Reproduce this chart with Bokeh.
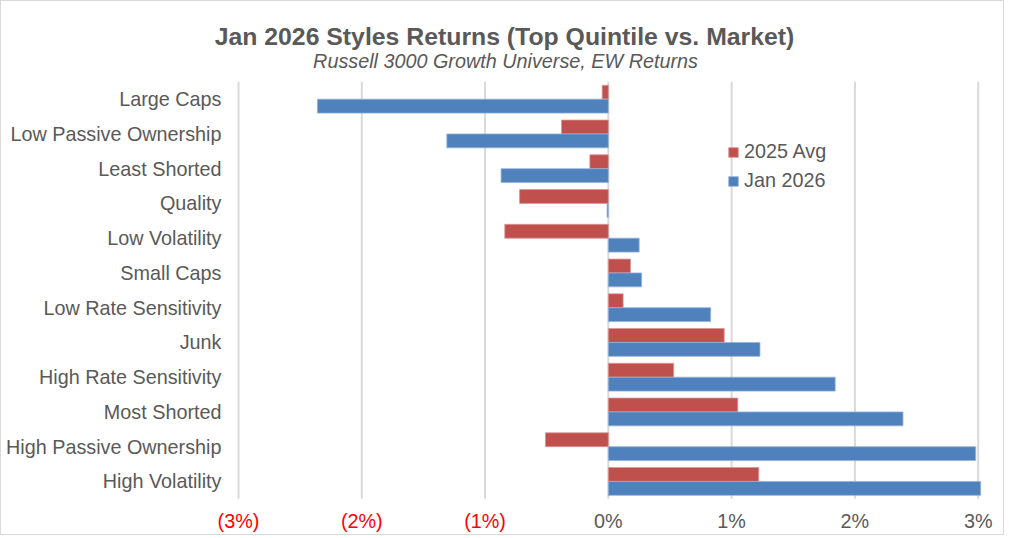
from bokeh.plotting import figure
from bokeh.models import ColumnDataSource, Label, Legend, LegendItem, Range1d
from bokeh.core.properties import value
from bokeh.embed import file_html
from bokeh.resources import INLINE

categories = ["Large Caps", "Low Passive Ownership", "Least Shorted", "Quality",
              "Low Volatility", "Small Caps", "Low Rate Sensitivity", "Junk",
              "High Rate Sensitivity", "Most Shorted", "High Passive Ownership",
              "High Volatility"]
avg_2025 = [-0.05, -0.38, -0.15, -0.72, -0.84, 0.18, 0.12, 0.94, 0.53, 1.05, -0.51, 1.22]
jan_2026 = [-2.36, -1.31, -0.87, -0.01, 0.25, 0.27, 0.83, 1.23, 1.84, 2.39, 2.98, 3.02]
tick_values = [-3, -2, -1, 0, 1, 2, 3]
tick_labels = ["(3%)", "(2%)", "(1%)", "0%", "1%", "2%", "3%"]

title_text = "Jan 2026 Styles Returns (Top Quintile vs. Market)"
subtitle_text = "Russell 3000 Growth Universe, EW Returns"

FONT = "Liberation Sans"
GREY = "#595959"
RED = "#C0504D"
BLUE = "#4F81BD"
LABEL_SIZE = "19.8px"

# ---- layout (pixels) ----
W, H = 1004, 535
PX_PER_X = 123.28          # pixels per 1 %
X_MINUS3_PX = 237          # pixel column of the -3% gridline
PX_PER_Y = 34.75           # pixels per category
TOP_CENTER_PX = 97.7       # pixel row of first category centre
n = len(categories)
zero_px = TOP_CENTER_PX + PX_PER_Y * (n - 0.5)
x_start = -3 - X_MINUS3_PX / PX_PER_X
x_end = x_start + W / PX_PER_X
y_start = -(H - zero_px) / PX_PER_Y
y_end = zero_px / PX_PER_Y


def xd(px):
    return x_start + px / PX_PER_X


def yd(py):
    return (zero_px - py) / PX_PER_Y


pos = [n - 0.5 - i for i in range(n)]
src = ColumnDataSource(dict(cat=categories, pos=pos,
                            pos_avg=[v + 0.2 for v in pos],
                            pos_jan=[v - 0.2 for v in pos],
                            avg=avg_2025, jan=jan_2026))

p = figure(width=W, height=H, output_backend="svg", toolbar_location=None,
           x_range=Range1d(x_start, x_end), y_range=Range1d(y_start, y_end),
           x_axis_location=None, y_axis_location=None, title=None,
           min_border=0)
p.outline_line_color = None
p.background_fill_color = "white"
p.border_fill_color = "white"
p.xgrid.grid_line_color = None
p.ygrid.grid_line_color = None
p.styles = {"border": "1px solid #d9d9d9"}

# vertical gridlines
grid_src = ColumnDataSource(dict(x=tick_values, y0=[0] * len(tick_values),
                                 y1=[n] * len(tick_values)))
p.segment(x0="x", x1="x", y0="y0", y1="y1", source=grid_src,
          line_color="#d9d9d9", line_width=2)

r1 = p.hbar(y="pos_avg", left=0, right="avg", height=0.4, source=src,
            fill_color=RED, line_color="#d99694", line_width=0.8)
r2 = p.hbar(y="pos_jan", left=0, right="jan", height=0.4, source=src,
            fill_color=BLUE, line_color="#95b3d7", line_width=0.8)

# category labels
p.text(x=xd(220), y="pos", text="cat", source=src, text_align="right",
       text_baseline="middle", text_font=value(FONT), text_font_size=LABEL_SIZE,
       text_color=GREY)

# x tick labels
tick_src = ColumnDataSource(dict(
    x=tick_values, y=[yd(519)] * len(tick_values), text=tick_labels,
    color=["#FF0000" if v < 0 else GREY for v in tick_values]))
p.text(x="x", y="y", text="text", source=tick_src, text_color="color",
       text_align="center", text_baseline="middle",
       text_font=value(FONT), text_font_size=LABEL_SIZE)

# titles
p.add_layout(Label(x=xd(503), y=yd(34.5), text=title_text, text_align="center",
                   text_baseline="middle", text_font=FONT,
                   text_font_size="24.8px", text_font_style="bold",
                   text_color=GREY))
p.add_layout(Label(x=xd(504), y=yd(59), text=subtitle_text, text_align="center",
                   text_baseline="middle", text_font=FONT,
                   text_font_size="19.8px", text_font_style="italic",
                   text_color=GREY))

legend = Legend(items=[LegendItem(label="2025 Avg", renderers=[r1]),
                       LegendItem(label="Jan 2026", renderers=[r2])],
                location=(726, H - 191))
legend.background_fill_alpha = 0
legend.border_line_color = None
legend.label_text_font = FONT
legend.label_text_font_size = LABEL_SIZE
legend.label_text_color = GREY
legend.glyph_width = 12
legend.glyph_height = 12
legend.label_standoff = 5
legend.spacing = 6
legend.padding = 0
legend.margin = 0
p.add_layout(legend)

open("out.html", "w").write(file_html(p, INLINE))
